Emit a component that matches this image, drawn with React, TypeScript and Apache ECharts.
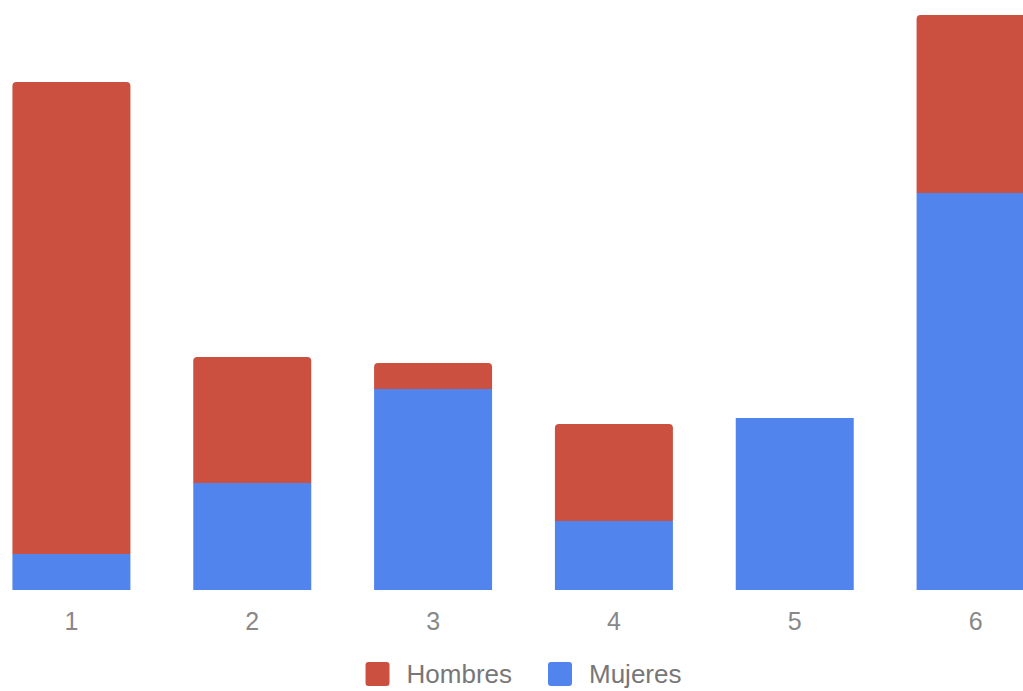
import React, { useEffect, useRef } from "react";
import * as echarts from "echarts";

const categories = ["1", "2", "3", "4", "5", "6"];
const mujeres = [36, 107, 201, 69, 172, 397];
const hombres = [472, 126, 26, 97, 0, 178];

const squareIcon =
  "path://M3,0 H21 A3,3 0 0 1 24,3 V21 A3,3 0 0 1 21,24 H3 A3,3 0 0 1 0,21 V3 A3,3 0 0 1 3,0 Z";

export default function App() {
  const ref = useRef<HTMLDivElement>(null);
  useEffect(() => {
    const chart = echarts.init(ref.current!, null, { renderer: "svg" });
    chart.setOption({
      animation: false,
      backgroundColor: "#ffffff",
      grid: { left: 0, right: 0, top: 0, bottom: 101, containLabel: false },
      legend: {
        data: ["Hombres", "Mujeres"],
        top: 661,
        left: "center",
        padding: 0,
        itemWidth: 24,
        itemHeight: 24,
        itemGap: 36,
        icon: squareIcon,
        textStyle: {
          fontSize: 26,
          lineHeight: 26,
          color: "#777777",
          fontFamily: "Liberation Sans",
          padding: [0, 0, 0, 12],
        },
      },
      xAxis: {
        type: "category",
        data: categories,
        axisLine: { show: false },
        axisTick: { show: false },
        axisLabel: { fontSize: 25, color: "#888888", fontFamily: "Liberation Sans", margin: 18 },
      },
      yAxis: {
        type: "value",
        min: 0,
        max: 590,
        show: false,
        splitLine: { show: false },
      },
      series: [
        {
          name: "Mujeres",
          type: "bar",
          stack: "total",
          data: mujeres,
          barWidth: 118,
          itemStyle: { color: "#5284ED" },
        },
        {
          name: "Hombres",
          type: "bar",
          stack: "total",
          data: hombres,
          barWidth: 118,
          itemStyle: { color: "#CB5040", borderRadius: [4, 4, 0, 0] },
        },
      ],
    });
    return () => chart.dispose();
  }, []);
  return (
    <div style={{ position: "fixed", left: 0, top: 0, width: 1023, height: 691, overflow: "hidden", background: "#fff" }}>
      <div
        ref={ref}
        style={{ position: "absolute", left: -19, top: 0, width: 1085, height: 691 }}
      />
    </div>
  );
}
